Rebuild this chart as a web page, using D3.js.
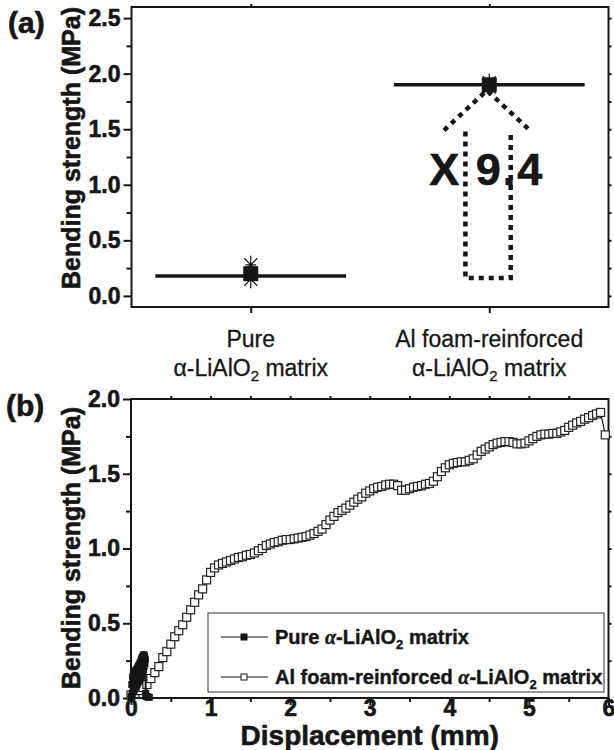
<!DOCTYPE html>
<html>
<head>
<meta charset="utf-8">
<script src="https://cdn.jsdelivr.net/npm/d3@7"></script>
<style>
  body { margin: 0; background: #fff; }
  svg { display: block; font-family: "Liberation Sans", Arial, sans-serif; }
</style>
</head>
<body>
<svg id="chart" width="614" height="750"></svg>
<script>
// ---- panel (a): bending strength per sample ----
const categories = ["Pure", "Al foam-reinforced"];
const catPos = [1, 2];
const meanStrength = [0.18, 1.90];
const squareStrength = [0.20, 1.90];
const starStrength = [[0.28, 0.15], [1.92, 1.88]];
// dotted "x 9.4" arrow, in data units of panel (a)
const arrowShaft = [[1.90, 1.48], [1.90, 0.16], [2.09, 0.16], [2.09, 1.48]];
const arrowHead = [[1.81, 1.49], [1.99, 1.85], [2.17, 1.49]];
const ratioLabel = "X 9.4";

// ---- panel (b): strength vs displacement ----
const pureCurve = [
  [0.00, 0.01], [0.01, 0.09], [0.015, 0.03], [0.02, 0.14], [0.025, 0.04], [0.03, 0.15],
  [0.035, 0.05], [0.04, 0.16], [0.045, 0.06], [0.05, 0.18], [0.055, 0.07], [0.06, 0.18],
  [0.065, 0.08], [0.07, 0.19], [0.075, 0.09], [0.08, 0.20], [0.085, 0.10], [0.09, 0.21],
  [0.095, 0.11], [0.10, 0.22], [0.105, 0.12], [0.11, 0.23], [0.115, 0.13], [0.12, 0.24],
  [0.125, 0.14], [0.13, 0.26], [0.135, 0.15], [0.14, 0.27], [0.145, 0.17], [0.15, 0.28],
  [0.155, 0.19], [0.16, 0.29], [0.165, 0.21], [0.17, 0.28], [0.175, 0.23], [0.18, 0.26],
  [0.185, 0.03], [0.19, 0.01], [0.20, 0.01], [0.215, 0.005], [0.23, 0.005]
];
const foamCurve = [
  [0.00, 0.02], [0.05, 0.03], [0.10, 0.05], [0.15, 0.07], [0.20, 0.09], [0.25, 0.13],
  [0.30, 0.17], [0.35, 0.21], [0.40, 0.27], [0.45, 0.31], [0.50, 0.36], [0.55, 0.41],
  [0.60, 0.45], [0.65, 0.49], [0.70, 0.54], [0.75, 0.59], [0.80, 0.64], [0.85, 0.69],
  [0.90, 0.73], [0.95, 0.79], [1.00, 0.84], [1.05, 0.87], [1.10, 0.89], [1.15, 0.90],
  [1.20, 0.91], [1.25, 0.92], [1.30, 0.93], [1.35, 0.94], [1.40, 0.945], [1.45, 0.955],
  [1.50, 0.96], [1.55, 0.97], [1.60, 0.985], [1.65, 1.00], [1.70, 1.02], [1.75, 1.03],
  [1.80, 1.04], [1.85, 1.045], [1.90, 1.055], [1.95, 1.06], [2.00, 1.06], [2.05, 1.065],
  [2.10, 1.07], [2.15, 1.075], [2.20, 1.08], [2.25, 1.09], [2.30, 1.10], [2.35, 1.115],
  [2.40, 1.13], [2.45, 1.16], [2.50, 1.19], [2.55, 1.215], [2.60, 1.24], [2.65, 1.255],
  [2.70, 1.27], [2.75, 1.29], [2.80, 1.31], [2.85, 1.33], [2.90, 1.345], [2.95, 1.37],
  [3.00, 1.385], [3.05, 1.40], [3.10, 1.41], [3.15, 1.415], [3.20, 1.425], [3.25, 1.43],
  [3.30, 1.43], [3.35, 1.42], [3.40, 1.39], [3.45, 1.39], [3.50, 1.40], [3.55, 1.41],
  [3.60, 1.415], [3.65, 1.42], [3.70, 1.43], [3.75, 1.435], [3.80, 1.45], [3.85, 1.48],
  [3.90, 1.515], [3.95, 1.54], [4.00, 1.56], [4.05, 1.57], [4.10, 1.575], [4.15, 1.58],
  [4.20, 1.58], [4.25, 1.59], [4.30, 1.60], [4.35, 1.625], [4.40, 1.65], [4.45, 1.665],
  [4.50, 1.68], [4.55, 1.695], [4.60, 1.705], [4.65, 1.71], [4.70, 1.715], [4.75, 1.715],
  [4.80, 1.71], [4.85, 1.70], [4.90, 1.70], [4.95, 1.705], [5.00, 1.72], [5.05, 1.735],
  [5.10, 1.75], [5.15, 1.76], [5.20, 1.765], [5.25, 1.765], [5.30, 1.77], [5.35, 1.77],
  [5.40, 1.78], [5.45, 1.79], [5.50, 1.81], [5.55, 1.825], [5.60, 1.84], [5.65, 1.85],
  [5.70, 1.865], [5.75, 1.875], [5.80, 1.89], [5.85, 1.90], [5.90, 1.91], [5.96, 1.76]
];
const legendLabels = ["Pure ", "Al foam-reinforced "];

const yTicksA = [0, 0.5, 1, 1.5, 2, 2.5];
const yTicksB = [0, 0.5, 1, 1.5, 2];
const xTicksB = [0, 1, 2, 3, 4, 5, 6];

const ink = "#161616";
const svg = d3.select("#chart");

const xa = d3.scaleLinear().domain([0.5, 2.5]).range([131.5, 608.5]);
const ya = d3.scaleLinear().domain([-0.1, 2.6]).range([307, 7]);
const xb = d3.scaleLinear().domain([0, 6]).range([131, 608.5]);
const yb = d3.scaleLinear().domain([0, 2]).range([698, 399]);

// heavy bold text like the original figure
function heavy(sel, size) {
  return sel.attr("font-size", size).attr("font-weight", "bold")
    .attr("fill", ink).attr("stroke", ink).attr("stroke-width", 0.6);
}

// draw an axis, drop the domain path, style ticks
function axis(g, gen, size, labels) {
  g.call(gen.tickSize(size).tickPadding(3));
  g.select(".domain").remove();
  g.selectAll(".tick line").attr("stroke", ink).attr("stroke-width", 2);
  if (labels) {
    heavy(g.selectAll(".tick text"), 23)
      .attr("font-family", "'Liberation Sans', Arial, sans-serif");
  }
  return g;
}

function frame(x, y) {
  svg.append("rect")
    .attr("x", x.range()[0]).attr("y", y.range()[1])
    .attr("width", x.range()[1] - x.range()[0])
    .attr("height", y.range()[0] - y.range()[1])
    .attr("fill", "none").attr("stroke", ink).attr("stroke-width", 2);
}

function yTitle(cy) {
  heavy(svg.append("text"), 25)
    .attr("transform", `translate(80,${cy}) rotate(-90)`)
    .attr("text-anchor", "middle")
    .text("Bending strength (MPa)");
}

function asterisk(cx, cy, r) {
  const d = r * 0.72;
  return `M${cx - d},${cy - d}L${cx + d},${cy + d}M${cx - d},${cy + d}L${cx + d},${cy - d}` +
         `M${cx},${cy - r}L${cx},${cy + r}M${cx - r * 0.6},${cy}L${cx + r * 0.6},${cy}`;
}

// ================= panel (a) =================
const fmt = d3.format(".1f");
axis(svg.append("g").attr("transform", `translate(${xa.range()[0]},0)`),
  d3.axisLeft(ya).tickValues(yTicksA).tickFormat(fmt), 8, true);
axis(svg.append("g").attr("transform", `translate(${xa.range()[0]},0)`),
  d3.axisLeft(ya).tickValues([0.25, 0.75, 1.25, 1.75, 2.25]).tickFormat(""), 5, false);
axis(svg.append("g").attr("transform", `translate(${xa.range()[1]},0)`),
  d3.axisRight(ya).tickValues([0, 0.25, 0.5, 0.75, 1, 1.25, 1.5, 1.75, 2, 2.25, 2.5]).tickFormat(""), 3, false);
axis(svg.append("g").attr("transform", `translate(0,${ya.range()[0]})`),
  d3.axisBottom(xa).tickValues(catPos).tickFormat(""), 6, false);
axis(svg.append("g").attr("transform", `translate(0,${ya.range()[1]})`),
  d3.axisTop(xa).tickValues(catPos).tickFormat(""), 3, false);
frame(xa, ya);

// category labels, two lines with subscript
catPos.forEach((c, i) => {
  const t = svg.append("text")
    .attr("x", xa(c)).attr("text-anchor", "middle")
    .attr("font-size", 23).attr("fill", ink)
    .attr("stroke", ink).attr("stroke-width", 0.3);
  t.append("tspan").attr("x", xa(c)).attr("y", 347).text(categories[i]);
  const l2 = t.append("tspan").attr("x", xa(c)).attr("y", 376);
  l2.append("tspan").text("\u03b1-LiAlO");
  l2.append("tspan").attr("font-size", 15).attr("dy", 5).text("2");
  l2.append("tspan").attr("dy", -5).text(" matrix");
});

// mean lines
svg.append("g").selectAll("line").data(catPos).join("line")
  .attr("x1", d => xa(d - 0.4)).attr("x2", d => xa(d + 0.4))
  .attr("y1", (d, i) => ya(meanStrength[i])).attr("y2", (d, i) => ya(meanStrength[i]))
  .attr("stroke", ink).attr("stroke-width", 3.5);

// individual points
catPos.forEach((c, i) => {
  starStrength[i].forEach(v => {
    svg.append("path").attr("d", asterisk(xa(c), ya(v), 9))
      .attr("stroke", ink).attr("stroke-width", 1.2).attr("fill", "none");
  });
  const s = 15;
  svg.append("rect")
    .attr("x", xa(c) - s / 2).attr("y", ya(squareStrength[i]) - s / 2)
    .attr("width", s).attr("height", s).attr("fill", ink);
});

// dotted arrow
const arrowLine = d3.line().x(d => xa(d[0])).y(d => ya(d[1]));
[arrowShaft, arrowHead].forEach(pts => {
  svg.append("path").attr("d", arrowLine(pts))
    .attr("fill", "none").attr("stroke", ink).attr("stroke-width", 4.5)
    .attr("stroke-dasharray", "5,5");
});
heavy(svg.append("text"), 45)
  .attr("x", xa(1.99)).attr("y", ya(1.0))
  .attr("text-anchor", "middle")
  .attr("letter-spacing", 2)
  .text(ratioLabel);

heavy(svg.append("text"), 30).attr("x", 8).attr("y", 33).text("(a)");
yTitle(148);

// ================= panel (b) =================
axis(svg.append("g").attr("transform", `translate(${xb.range()[0]},0)`),
  d3.axisLeft(yb).tickValues(yTicksB).tickFormat(fmt), 8, true);
axis(svg.append("g").attr("transform", `translate(${xb.range()[0]},0)`),
  d3.axisLeft(yb).tickValues([0.25, 0.75, 1.25, 1.75]).tickFormat(""), 5, false);
axis(svg.append("g").attr("transform", `translate(${xb.range()[1]},0)`),
  d3.axisRight(yb).tickValues([0.25, 0.5, 0.75, 1, 1.25, 1.5, 1.75]).tickFormat(""), 3, false);
const xAxB = axis(svg.append("g").attr("transform", `translate(0,${yb.range()[0]})`),
  d3.axisBottom(xb).tickValues(xTicksB).tickFormat(d3.format("d")), 7, true);
xAxB.selectAll(".tick text").attr("y", 18).attr("dy", 0);
axis(svg.append("g").attr("transform", `translate(0,${yb.range()[0]})`),
  d3.axisBottom(xb).tickValues([0.5, 1.5, 2.5, 3.5, 4.5, 5.5]).tickFormat(""), 4, false);
axis(svg.append("g").attr("transform", `translate(0,${yb.range()[1]})`),
  d3.axisTop(xb).tickValues([0.5, 1, 1.5, 2, 2.5, 3, 3.5, 4, 4.5, 5, 5.5]).tickFormat(""), 3, false);
frame(xb, yb);

const lineB = d3.line().x(d => xb(d[0])).y(d => yb(d[1]));

// Al foam-reinforced: open squares
svg.append("path").attr("d", lineB(foamCurve))
  .attr("fill", "none").attr("stroke", ink).attr("stroke-width", 1.2);
svg.append("g").selectAll("rect").data(foamCurve).join("rect")
  .attr("x", d => xb(d[0]) - 4).attr("y", d => yb(d[1]) - 4)
  .attr("width", 8).attr("height", 8)
  .attr("fill", "#fff").attr("stroke", "#222").attr("stroke-width", 1.2);

// pure: filled squares
svg.append("path").attr("d", lineB(pureCurve))
  .attr("fill", "none").attr("stroke", ink).attr("stroke-width", 2);
svg.append("g").selectAll("rect").data(pureCurve).join("rect")
  .attr("x", d => xb(d[0]) - 3.5).attr("y", d => yb(d[1]) - 3.5)
  .attr("width", 7).attr("height", 7).attr("fill", ink);

// legend
const lg = svg.append("g");
lg.append("rect").attr("x", 208).attr("y", 613).attr("width", 396).attr("height", 79)
  .attr("fill", "#fff").attr("stroke", "#333").attr("stroke-width", 1);
legendLabels.forEach((lab, i) => {
  const y = 637 + i * 40;
  lg.append("line").attr("x1", 221).attr("x2", 268).attr("y1", y).attr("y2", y)
    .attr("stroke", ink).attr("stroke-width", 1.2);
  lg.append("rect").attr("x", 241).attr("y", y - 3).attr("width", 6).attr("height", 6)
    .attr("fill", i === 0 ? ink : "#fff").attr("stroke", ink).attr("stroke-width", 1);
  const t = heavy(lg.append("text"), 20).attr("x", 275).attr("y", y + 7)
    .attr("stroke-width", 0.4);
  t.append("tspan").text(lab);
  t.append("tspan").attr("font-family", "'Liberation Serif', serif").attr("font-style", "italic").text("\u03b1");
  t.append("tspan").text("-LiAlO");
  t.append("tspan").attr("font-size", 13).attr("dy", 5).text("2");
  t.append("tspan").attr("dy", -5).text(" matrix");
});

heavy(svg.append("text"), 28).attr("x", xb(3)).attr("y", 745)
  .attr("text-anchor", "middle")
  .text("Displacement (mm)");

heavy(svg.append("text"), 30).attr("x", 6).attr("y", 416).text("(b)");
yTitle(548);
</script>
</body>
</html>
